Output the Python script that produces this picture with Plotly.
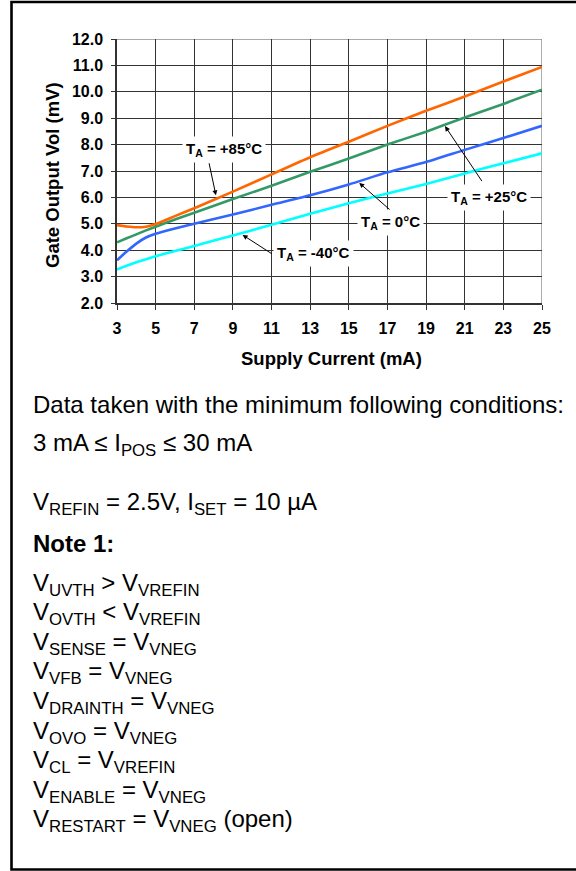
import plotly.graph_objects as go

# ---- data ----
supply_current_ma = [3, 3.5, 4, 4.5, 5, 6, 7, 9, 11, 13, 15, 17, 19, 21, 23, 25]
vol_85c = [4.95, 4.90, 4.87, 4.89, 4.99, 5.29, 5.59, 6.22, 6.87, 7.52, 8.11, 8.71, 9.28, 9.82, 10.39, 10.94]
vol_25c = [4.30, 4.45, 4.60, 4.75, 4.89, 5.16, 5.42, 5.94, 6.44, 6.97, 7.47, 8.00, 8.49, 9.03, 9.54, 10.08]
vol_0c = [3.62, 3.95, 4.25, 4.48, 4.62, 4.82, 5.00, 5.35, 5.72, 6.08, 6.49, 6.95, 7.34, 7.80, 8.25, 8.71]
vol_m40c = [3.27, 3.41, 3.54, 3.66, 3.77, 3.97, 4.16, 4.56, 4.96, 5.38, 5.78, 6.15, 6.51, 6.91, 7.29, 7.67]

series_names = ["T<sub>A</sub> = -40°C", "T<sub>A</sub> = 0°C", "T<sub>A</sub> = +25°C", "T<sub>A</sub> = +85°C"]
series_values = [vol_m40c, vol_0c, vol_25c, vol_85c]
series_colors = ["#00FFFF", "#3366FF", "#339966", "#FF6600"]

x_ticks = [3, 5, 7, 9, 11, 13, 15, 17, 19, 21, 23, 25]
y_ticks = [2, 3, 4, 5, 6, 7, 8, 9, 10, 11, 12]

x_title = "Supply Current (mA)"
y_title = "Gate Output Vol (mV)"

# callout labels: (text, label x, label y, arrow tail x, tail y, arrow tip x, tip y)
callouts = [
    ("T<sub>A</sub> = +85°C", 8.55, 7.80, 7.75, 7.35, 8.12, 6.08),
    ("T<sub>A</sub> = +25°C", 22.25, 5.99, 21.94, 6.56, 19.98, 8.70),
    ("T<sub>A</sub> = 0°C", 17.18, 5.05, 17.22, 5.47, 15.54, 6.55),
    ("T<sub>A</sub> = -40°C", 13.15, 3.89, 11.09, 3.83, 9.50, 4.58),
]

notes_head = [
    "Data taken with the minimum following conditions:",
    "3 mA ≤ I<sub>POS</sub> ≤ 30 mA",
    "V<sub>REFIN</sub> = 2.5V, I<sub>SET</sub> = 10 µA",
    "<b>Note 1:</b>",
]
notes_head_y = [405, 444, 503, 543]
notes_list = [
    "V<sub>UVTH</sub> > V<sub>VREFIN</sub>",
    "V<sub>OVTH</sub> < V<sub>VREFIN</sub>",
    "V<sub>SENSE</sub> = V<sub>VNEG</sub>",
    "V<sub>VFB</sub> = V<sub>VNEG</sub>",
    "V<sub>DRAINTH</sub> = V<sub>VNEG</sub>",
    "V<sub>OVO</sub> = V<sub>VNEG</sub>",
    "V<sub>CL</sub> = V<sub>VREFIN</sub>",
    "V<sub>ENABLE</sub> = V<sub>VNEG</sub>",
    "V<sub>RESTART</sub> = V<sub>VNEG</sub> (open)",
]

# ---- layout geometry (pixels) ----
W, H = 576, 871
L, R, T, B = 117, 34, 39, 568
PW = W - L - R
PH = H - T - B
FONT = "Arial, Liberation Sans, sans-serif"


def px(xp):
    return (xp - L) / PW


def py(yp):
    return (H - B - yp) / PH


fig = go.Figure()
for name, vals, col in zip(series_names, series_values, series_colors):
    fig.add_trace(go.Scatter(x=supply_current_ma, y=vals, name=name, mode="lines",
                             line=dict(color=col, width=2.6, shape="spline", smoothing=0.6),
                             showlegend=False, hoverinfo="skip"))

annotations = []
for text, lx, ly, tx, ty, hx, hy in callouts:
    annotations.append(dict(x=hx, y=hy, ax=tx, ay=ty, xref="x", yref="y", axref="x", ayref="y",
                            text="", showarrow=True, arrowhead=2, arrowsize=1, arrowwidth=1,
                            arrowcolor="black", standoff=0, startstandoff=0))
    annotations.append(dict(x=lx, y=ly, xref="x", yref="y", text="<b>" + text + "</b>",
                            showarrow=False, bgcolor="white", borderpad=3,
                            font=dict(family=FONT, size=15, color="black")))

annotations.append(dict(x=px(331), y=py(358), xref="paper", yref="paper", text="<b>" + x_title + "</b>",
                        showarrow=False, xanchor="center", yanchor="middle",
                        font=dict(family=FONT, size=18.5, color="black")))
annotations.append(dict(x=px(52), y=py(175), xref="paper", yref="paper", text="<b>" + y_title + "</b>",
                        showarrow=False, textangle=-90, xanchor="center", yanchor="middle",
                        font=dict(family=FONT, size=18.5, color="black")))

for t, yy in zip(notes_head, notes_head_y):
    annotations.append(dict(x=px(31), y=py(yy), xref="paper", yref="paper", text=t,
                            showarrow=False, xanchor="left", yanchor="middle",
                            font=dict(family=FONT, size=24, color="black")))
for i, t in enumerate(notes_list):
    annotations.append(dict(x=px(31), y=py(584 + 29.6 * i), xref="paper", yref="paper", text=t,
                            showarrow=False, xanchor="left", yanchor="middle",
                            font=dict(family=FONT, size=24, color="black")))

shapes = [
    dict(type="rect", xref="paper", yref="paper", x0=px(11.5), x1=px(590), y0=py(869.5), y1=py(2),
         line=dict(color="black", width=2.6), fillcolor="rgba(0,0,0,0)", layer="above"),
    dict(type="line", xref="x", yref="paper", x0=25, x1=25, y0=0, y1=1,
         line=dict(color="#8c8c8c", width=1.4), layer="between"),
    dict(type="line", xref="paper", yref="y", x0=0, x1=1, y0=12, y1=12,
         line=dict(color="#8c8c8c", width=1.4), layer="between"),
]

axis_font = dict(family=FONT, size=16, color="black")
fig.update_layout(
    width=W, height=H,
    margin=dict(l=L, r=R, t=T, b=B, autoexpand=False),
    paper_bgcolor="white", plot_bgcolor="white",
    xaxis=dict(range=[3, 25], tickvals=x_ticks, ticktext=["<b>%d</b>" % v for v in x_ticks],
               showgrid=True, gridcolor="#333333", gridwidth=1.3,
               showline=True, linecolor="#333333", linewidth=1.5,
               ticks="outside", ticklen=5, tickcolor="#333333", ticklabelstandoff=5,
               tickfont=axis_font, zeroline=False, fixedrange=True),
    yaxis=dict(range=[2, 12], tickvals=y_ticks, ticktext=["<b>%.1f</b>" % v for v in y_ticks],
               showgrid=True, gridcolor="#333333", gridwidth=1.3,
               showline=True, linecolor="#333333", linewidth=1.5,
               ticks="outside", ticklen=4, tickcolor="#333333", ticklabelstandoff=5,
               tickfont=axis_font, zeroline=False, fixedrange=True),
    annotations=annotations,
    shapes=shapes,
)

fig.write_html("out.html", config={"displayModeBar": False},
               post_script="document.body.style.margin='0';document.body.style.overflow='hidden';")
